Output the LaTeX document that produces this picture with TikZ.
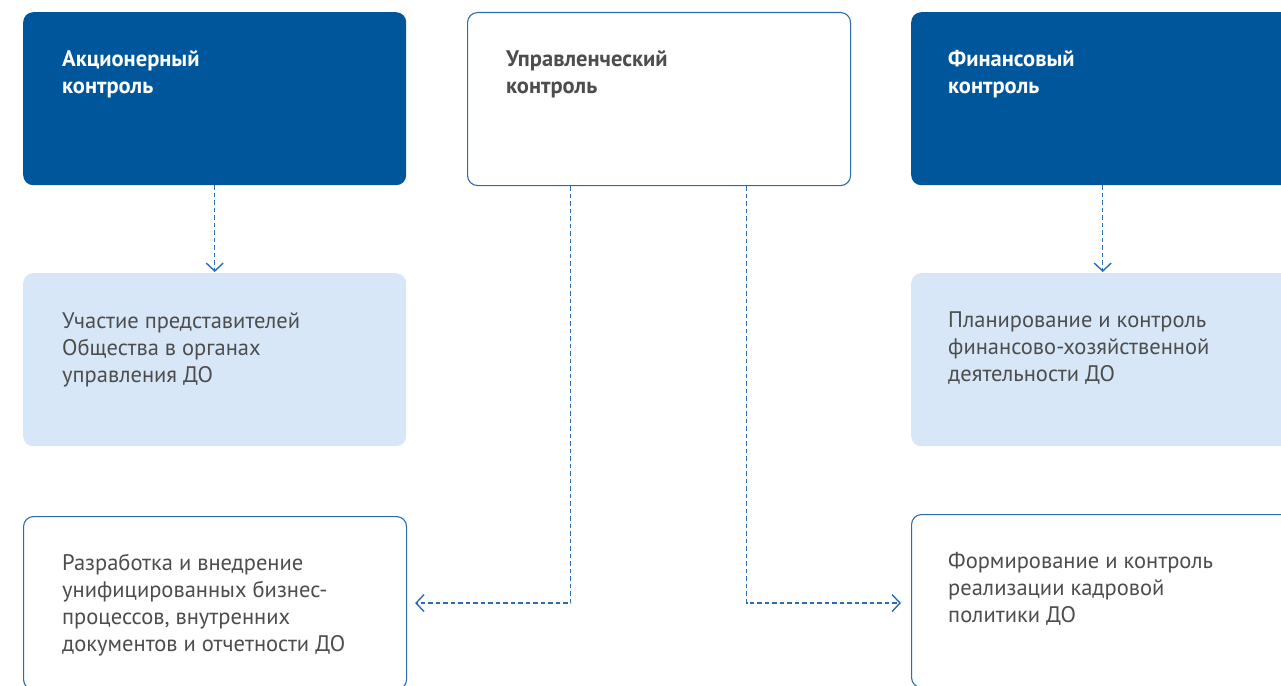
\documentclass[tikz,border=0pt]{standalone}
\usepackage{fontspec}
\setmainfont{PT Sans}
\usetikzlibrary{arrows.meta}
\definecolor{darkblue}{HTML}{00569B}
\definecolor{lightblue}{HTML}{D8E7F8}
\definecolor{outline}{HTML}{2E6BAD}
\definecolor{txtgray}{HTML}{4D4D4D}
\definecolor{arrowblue}{HTML}{2A6DB5}
\begin{document}
\begin{tikzpicture}[x=1pt,y=-1pt,
  boxbase/.style={rectangle,rounded corners=10pt,minimum width=383pt,minimum height=173pt,inner sep=0pt,anchor=north west},
  darkbox/.style={boxbase,fill=darkblue},
  lightbox/.style={boxbase,fill=lightblue},
  whitebox/.style={boxbase,fill=white,draw=outline,line width=1.1pt},
  headtxt/.style={anchor=north west,inner sep=0pt,align=left,font=\fontsize{22.5}{27}\selectfont\bfseries},
  bodytxt/.style={anchor=north west,inner sep=0pt,align=left,text=txtgray,font=\fontsize{22.5}{27}\selectfont},
  conn/.style={draw=arrowblue,line width=1.5pt,dash pattern=on 4.5pt off 3pt,-{Straight Barb[length=8pt,width=17pt,line width=1.4pt]}}
]
\useasboundingbox (0,0) rectangle (1281,685);
\clip (0,0) rectangle (1281,685);
% boxes
\node[darkbox] (A1) at (23,12) {};
\node[whitebox] (M) at (467,12) {};
\node[darkbox] (F1) at (911,12) {};
\node[lightbox] (A2) at (23,273) {};
\node[lightbox] (F2) at (911,273) {};
\node[whitebox] (A3) at (23,516) {};
\node[whitebox] (F3) at (911,514) {};
% texts
\node[headtxt,text=white] (tA1) at ([shift={(39,38)}]A1.north west) {Акционерный\\контроль};
\node[headtxt,text=txtgray] (tM) at ([shift={(39,38)}]M.north west) {Управленческий\\контроль};
\node[headtxt,text=white] (tF1) at ([shift={(37,38)}]F1.north west) {Финансовый\\контроль};
\node[bodytxt] (tA2) at ([shift={(39,39)}]A2.north west) {Участие представителей\\Общества в органах\\управления ДО};
\node[bodytxt] (tF2) at ([shift={(37,39)}]F2.north west) {Планирование и контроль\\финансово-хозяйственной\\деятельности ДО};
\node[bodytxt] (tA3) at ([shift={(39,38)}]A3.north west) {Разработка и внедрение\\унифицированных бизнес-\\процессов, внутренних\\документов и отчетности ДО};
\node[bodytxt] (tF3) at ([shift={(37,38)}]F3.north west) {Формирование и контроль\\реализации кадровой\\политики ДО};
% connectors
\draw[conn,shorten >=1pt] (A1.south) -- (A2.north);
\draw[conn,shorten >=1pt] (F1.south) -- (F2.north);
\draw[conn,shorten >=8pt] ([xshift=-88.5pt]M.south) |- (A3.east);
\draw[conn,shorten >=10pt] ([xshift=87.5pt]M.south) |- (F3.west |- A3.east);
\end{tikzpicture}
\end{document}
